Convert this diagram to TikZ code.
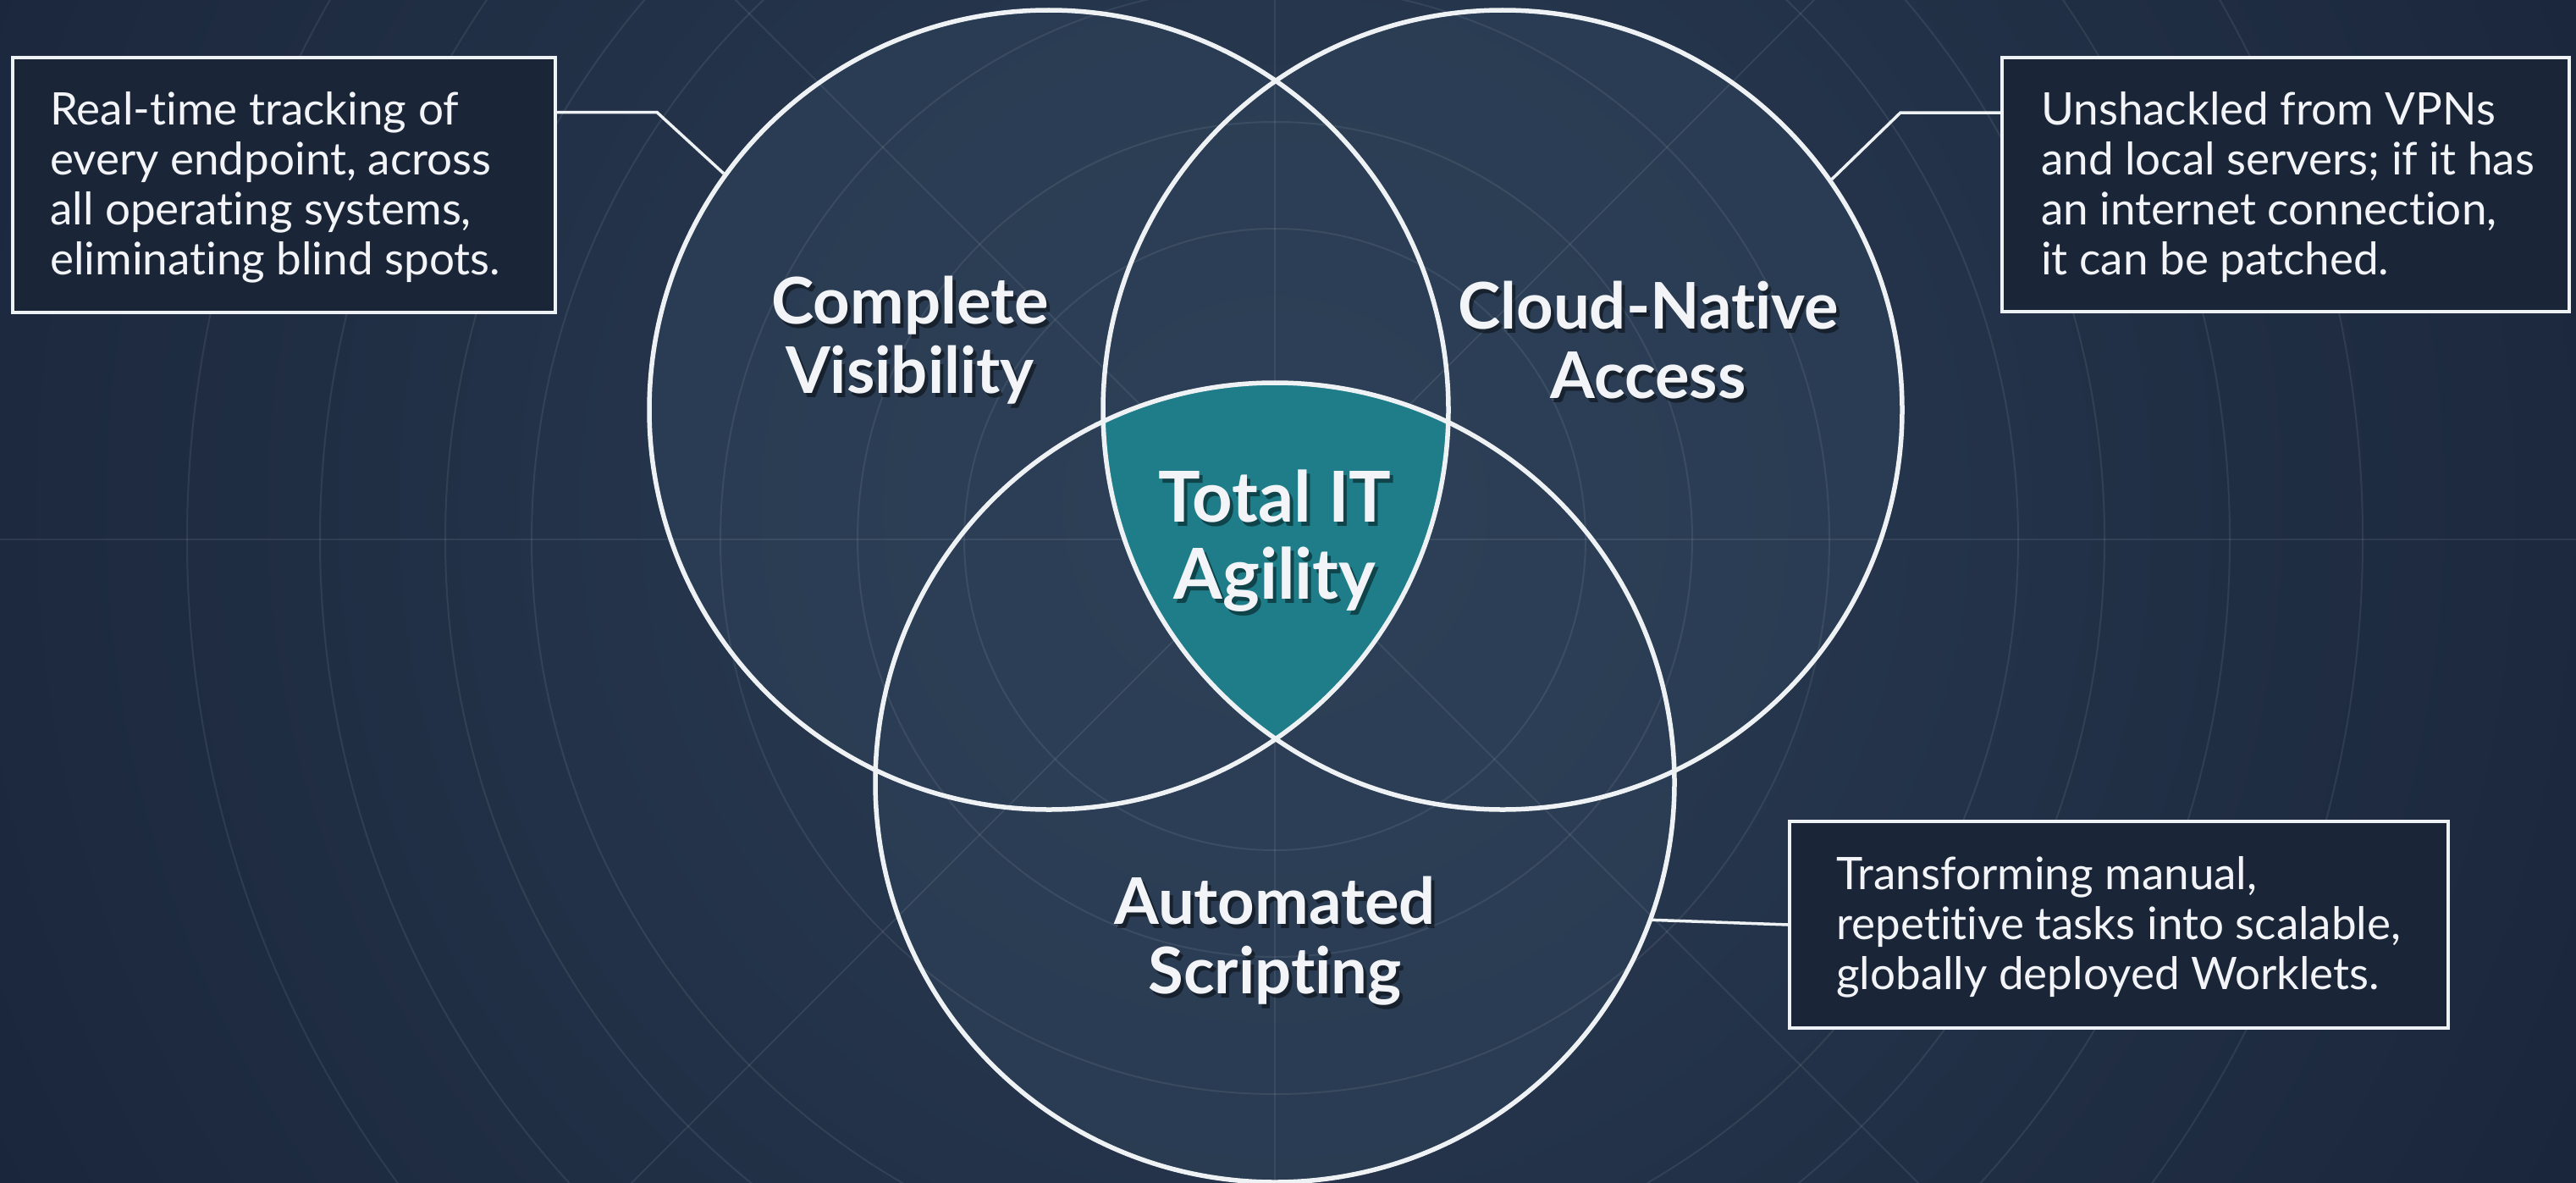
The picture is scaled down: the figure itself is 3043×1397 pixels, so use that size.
\documentclass[tikz,border=0pt]{standalone}
\usepackage{fontspec}
\setmainfont{Lato}[Ligatures=NoCommon]
\definecolor{bgout}{HTML}{172237}
\definecolor{bgin}{HTML}{2C3E55}
\definecolor{vennfill}{HTML}{2E4259}
\definecolor{tealc}{HTML}{1E7D89}
\definecolor{boxfill}{HTML}{1A2638}
\definecolor{txt}{HTML}{F2F4F7}
\definecolor{ringc}{HTML}{EEF2F5}
\tikzset{
  grid/.style={draw=white, draw opacity=0.08, line width=2pt},
  vc/.style={circle, draw=ringc, line width=5.5pt, minimum size=944pt, inner sep=0pt},
  lab/.style={text=txt, font=\bfseries\fontsize{76}{82}\selectfont, align=center, inner sep=0pt},
  labsh/.style={lab, text=black, text opacity=0.45},
  biglab/.style={lab, font=\bfseries\fontsize{83}{91}\selectfont},
  biglabsh/.style={biglab, text=black, text opacity=0.45},
  infobox/.style={draw=ringc, line width=4pt, fill=boxfill, inner sep=0pt},
  body/.style={text=txt, font=\fontsize{53}{59}\selectfont, align=left, inner sep=0pt},
  conn/.style={draw=ringc, line width=3.5pt}
}
\begin{document}
\begin{tikzpicture}[x=1pt,y=-1pt]
\useasboundingbox (0,0) rectangle (3043,1397);
% background
\fill[bgout] (0,0) rectangle (3043,1397);
\shade[inner color=bgin, outer color=bgout] (1506,600) circle (2000pt);
% venn fills
\fill[vennfill, fill opacity=0.6] (1239,484) circle (472pt) (1775,484) circle (472pt) (1506,924) circle (472pt);
% grid
\begin{scope}
\clip (0,0) rectangle (3043,1397);
\foreach \r in {367,493,655,878,980,1128,1285}
  \draw[grid] (1506,637) circle (\r pt);
\draw[grid] (0,637) -- (3043,637);
\draw[grid] (1506,0) -- (1506,1397);
\foreach \a in {45,135,225,315}
  \draw[grid] (1506,637) -- ++(\a:2200pt);
\end{scope}
% teal centre
\begin{scope}
\clip (1239,484) circle (472pt);
\clip (1775,484) circle (472pt);
\fill[tealc] (1506,924) circle (472pt);
\end{scope}
% circles
\node[vc] (cL) at (1239,484) {};
\node[vc] (cR) at (1775,484) {};
\node[vc] (cB) at (1506,924) {};
% labels
\node[labsh] (cvS) at (1079,407) {Complete\\Visibility};
\node[lab] (cv) at (1075,402) {Complete\\Visibility};
\node[labsh] (cnS) at (1951,407) {Cloud-Native\\Access};
\node[lab] (cn) at (1947,402) {Cloud-Native\\Access};
\node[labsh] (asS) at (1510,1116) {Automated\\Scripting};
\node[lab] (as) at (1506,1111) {Automated\\Scripting};
\node[biglabsh] (tiS) at (1510,644) {Total IT\\Agility};
\node[biglab] (ti) at (1506,639) {Total IT\\Agility};
% boxes
\node[infobox, minimum width=641pt, minimum height=301pt] (boxL) at (335.5,218.5) {};
\node[body, anchor=west] (tL) at ([xshift=46pt,yshift=-3pt]boxL.west) {Real-time tracking of\\every endpoint, across\\all operating systems,\\eliminating blind spots.};
\node[infobox, minimum width=670pt, minimum height=300pt] (boxR) at (2700,218) {};
\node[body, anchor=west] (tR) at ([xshift=48pt,yshift=-3pt]boxR.west) {Unshackled from VPNs\\and local servers; if it has\\an internet connection,\\it can be patched.};
\node[infobox, minimum width=778pt, minimum height=244pt] (boxB) at (2503,1092) {};
\node[body, anchor=west] (tB) at ([xshift=57pt,yshift=-3pt]boxB.west) {Transforming manual,\\repetitive tasks into scalable,\\globally deployed Worklets.};
% connectors
\draw[conn] ([yshift=86pt]boxL.east) -- ++(118,0) -- (cL.144.5);
\draw[conn] ([yshift=85pt]boxR.west) -- ++(-118,0) -- (cR.35);
\draw[conn] (boxB.west) -- (cB.-20.7);
\end{tikzpicture}
\end{document}
